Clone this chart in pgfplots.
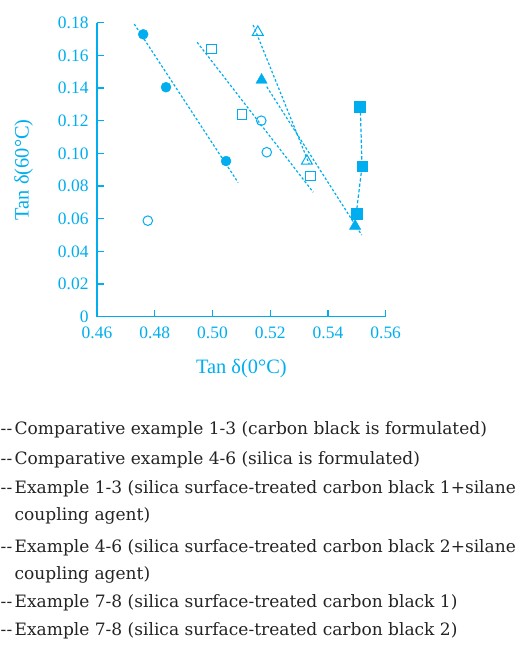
\documentclass[border=0pt]{standalone}
\usepackage{fontspec}
\setmainfont{Liberation Serif}
\newfontfamily\legfont{DejaVu Serif}
\usepackage{pgfplots}
\pgfplotsset{compat=1.18}
\definecolor{cy}{RGB}{0,174,239}
\definecolor{tx}{RGB}{35,35,35}
\begin{document}
\begin{tikzpicture}
\path[use as bounding box] (0,0) rectangle (523bp,-652bp);
\begin{axis}[
  at={(97bp,-316.7bp)}, anchor=south west, scale only axis,
  width=288.7bp, height=294bp,
  xmin=0.46, xmax=0.56, ymin=0, ymax=0.18,
  axis lines=left,
  axis line style={cy, line width=1.1bp, -},
  xtick={0.46,0.48,0.50,0.52,0.54,0.56},
  xticklabels={0.46,0.48,0.50,0.52,0.54,0.56},
  ytick={0,0.02,0.04,0.06,0.08,0.10,0.12,0.14,0.16,0.18},
  yticklabels={0,0.02,0.04,0.06,0.08,0.10,0.12,0.14,0.16,0.18},
  tick align=inside, major tick length=7bp,
  tick style={cy, line width=1.1bp},
  ticklabel style={cy, font=\fontsize{17.5}{20}\selectfont},
  yticklabel style={xshift=-5bp},
  xticklabel style={yshift=-7bp},
  xlabel={Tan δ(0°C)}, ylabel={Tan δ(60°C)},
  label style={cy, font=\fontsize{20.5}{24}\selectfont},
  xlabel style={at={(axis description cs:0.5,-0.178)}, anchor=center},
  ylabel style={at={(axis description cs:-0.254,0.5)}, anchor=center, rotate=0},
  clip=false,
  dl/.style={cy, line width=1.2bp, dash pattern=on 2.5bp off 2bp, no marks},
]
% dotted trend lines
\addplot[dl] coordinates {(0.4729,0.1792) (0.5089,0.0821)};
\addplot[dl] coordinates {(0.4947,0.1680) (0.5349,0.0762)};
\addplot[dl] coordinates {(0.5141,0.1786) (0.5335,0.0935)};
\addplot[dl] coordinates {(0.5188,0.1408) (0.5517,0.0500)};
\addplot[dl, dash pattern=on 3.5bp off 2bp] coordinates {(0.5512,0.1286) (0.5518,0.0921) (0.5498,0.0631)};
% filled circles
\addplot[only marks, mark=*, mark size=5bp, cy, mark options={fill=cy, draw=cy}] coordinates {(0.4760,0.1729) (0.4839,0.1405) (0.5047,0.0953)};
% open circles
\addplot[only marks, mark=o, mark size=4.8bp, mark options={draw=cy, fill=white, line width=1bp}] coordinates {(0.5169,0.1200) (0.5188,0.1007) (0.4776,0.0588)};
% open squares
\addplot[only marks, mark=square, mark size=4.7bp, mark options={draw=cy, fill=white, line width=1bp}] coordinates {(0.4996,0.1639) (0.5102,0.1239) (0.5340,0.0863)};
% filled squares
\addplot[only marks, mark=square*, mark size=5.2bp, mark options={draw=cy, fill=cy}] coordinates {(0.5510,0.1286) (0.5518,0.0921) (0.5500,0.0631)};
% open triangles
\addplot[only marks, mark=triangle, mark size=6.3bp, mark options={draw=cy, fill=white, line width=1bp}] coordinates {(0.5157,0.1742) (0.5327,0.0953)};
% filled triangles
\addplot[only marks, mark=triangle*, mark size=6.5bp, mark options={draw=cy, fill=cy}] coordinates {(0.5170,0.1449) (0.5494,0.0555)};
\end{axis}
\begin{scope}[every node/.style={inner sep=0pt, anchor=base west, text=tx, font=\legfont\fontsize{17.1}{20}\selectfont}]
\node at (0.5bp,-434bp) {-\kern0.3bp-};
\node at (14.5bp,-434bp) {Comparative example 1-3 (carbon black is formulated)};
\node at (0.5bp,-464bp) {-\kern0.3bp-};
\node at (14.5bp,-464bp) {Comparative example 4-6 (silica is formulated)};
\node at (0.5bp,-493bp) {-\kern0.3bp-};
\node at (14.5bp,-493bp) {Example 1-3 (silica surface-treated carbon black 1+silane};
\node at (14.5bp,-520bp) {coupling agent)};
\node at (0.5bp,-552bp) {-\kern0.3bp-};
\node at (14.5bp,-552bp) {Example 4-6 (silica surface-treated carbon black 2+silane};
\node at (14.5bp,-579bp) {coupling agent)};
\node at (0.5bp,-607bp) {-\kern0.3bp-};
\node at (14.5bp,-607bp) {Example 7-8 (silica surface-treated carbon black 1)};
\node at (0.5bp,-635bp) {-\kern0.3bp-};
\node at (14.5bp,-635bp) {Example 7-8 (silica surface-treated carbon black 2)};
\end{scope}
\end{tikzpicture}
\end{document}
